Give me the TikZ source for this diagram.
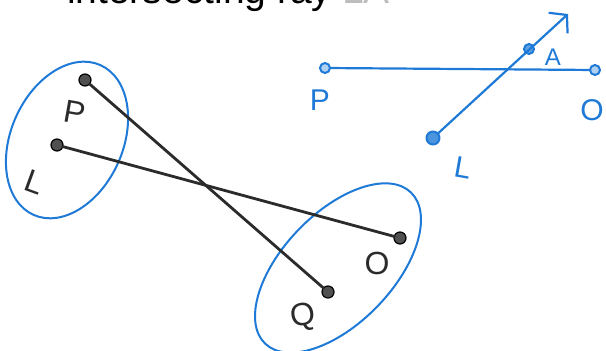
\documentclass[tikz,border=0pt]{standalone}
\usepackage{fontspec}
\setmainfont{Liberation Sans}
\usetikzlibrary{arrows.meta}
\definecolor{sketchBlue}{HTML}{1E7AD6}
\definecolor{sketchInk}{HTML}{2B2B2B}
\definecolor{sketchDot}{HTML}{505050}
\definecolor{sketchFade}{HTML}{BDBDBD}
\tikzset{
  sketch diagram/.style={
    x=1pt, y=1pt, line cap=round, line join=round,
    every node/.style={inner sep=0pt, outer sep=0pt}
  },
  sketch set/.style={draw=sketchBlue, line width=2pt},
  sketch link/.style={draw=sketchInk, line width=2.8pt},
  sketch dot/.style={circle, minimum size=12pt, fill=sketchDot,
    draw=black, line width=1.2pt},
  sketch label/.style={font=\fontsize{32}{32}\selectfont, text=sketchInk},
  ray dot/.style={circle, minimum size=10pt, draw=sketchBlue,
    line width=2pt, fill=sketchBlue!35},
  ray line/.style={draw=sketchBlue, line width=2.2pt},
  ray label/.style={font=\fontsize{30}{30}\selectfont, text=sketchBlue}
}

\begin{document}
\begin{tikzpicture}[sketch diagram]
  \useasboundingbox (0,0) rectangle (606,351);
  \clip (0,0) rectangle (606,351);
  % heading, cut by the top edge
  \node[anchor=base west, font=\fontsize{39}{47}\selectfont] (title)
    at (67,347) {intersecting ray \textcolor{sketchFade}{LA}};

  % the two sets
  \draw[sketch set] (67,211) ellipse[x radius=82, y radius=56, rotate=66];
  \draw[sketch set] (338,83) ellipse[x radius=105, y radius=55, rotate=46];

  \node[sketch dot] (setP) at (85,271) {};
  \node[sketch dot] (setL) at (57,206) {};
  \node[sketch dot] (setO) at (400,113) {};
  \node[sketch dot] (setQ) at (328,59) {};
  \node[sketch label, rotate=-10] (labP) at (75,238) {P};
  \node[sketch label, rotate=-20] (labL) at (35,169) {L};
  \node[sketch label] (labO) at (377,88) {O};
  \node[sketch label, rotate=10] (labQ) at (303,34) {Q};

  \draw[sketch link] (setP) -- (setQ);
  \draw[sketch link] (setL) -- (setO);

  % segment PQ and ray LA
  \node[ray dot] (rayP) at (325,283) {};
  \node[ray dot] (rayQ) at (595,281) {};
  \node[ray dot, fill=sketchBlue!80, minimum size=13pt] (rayL) at (433,213) {};
  \node[ray dot, fill=sketchBlue!70] (rayA) at (529,302) {};
  \coordinate (rayEnd) at (568,337);
  \draw[ray line] (rayP) -- (rayQ);
  \draw[ray line, -{Straight Barb[length=12pt,width=28pt]}] (rayL) -- (rayEnd);
  \node[ray label] (nameP) at (320,251) {P};
  \node[ray label] (nameO) at (592,241) {O};
  \node[ray label, rotate=-10] (nameL) at (463,183) {L};
  \node[ray label, font=\fontsize{24}{24}\selectfont] (nameA) at (553,294) {A};
\end{tikzpicture}
\end{document}
